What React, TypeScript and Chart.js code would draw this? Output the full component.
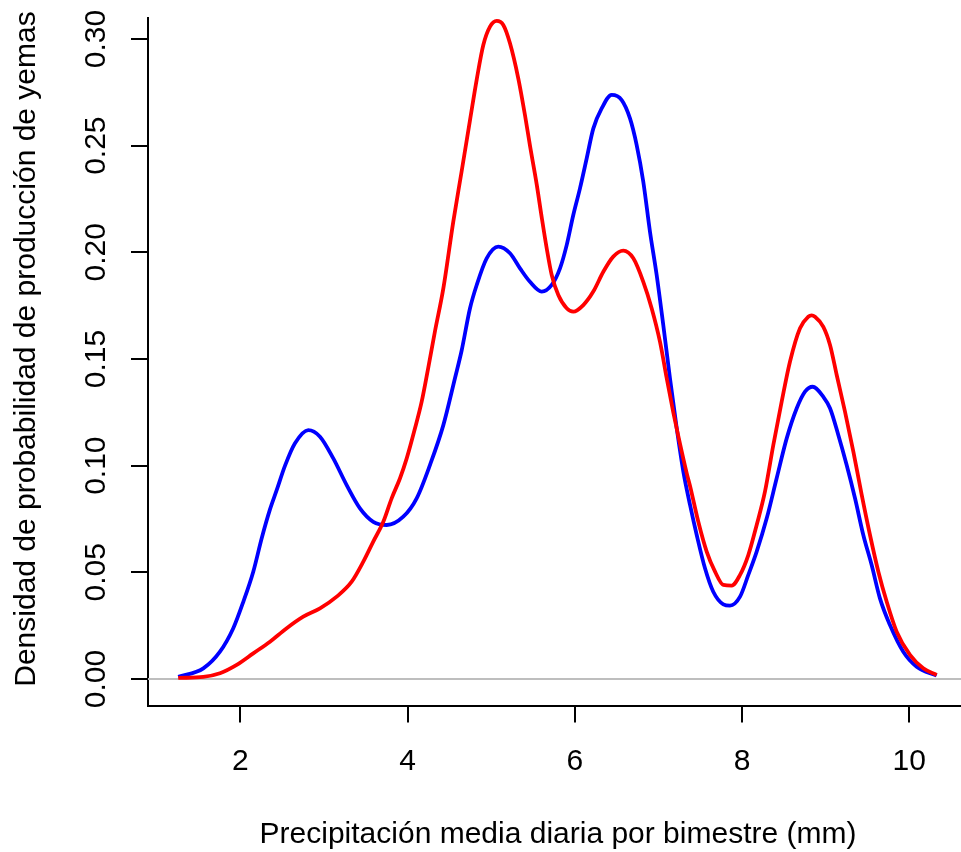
import React, { useEffect, useRef } from "react";
import { Chart, registerables } from "chart.js";

Chart.register(...registerables);

// Density curve (blue)
const blueX = [
  1.258, 1.558, 1.757, 1.916, 2.036, 2.155, 2.256, 2.355, 2.435, 2.535, 2.654, 2.813, 2.953,
  3.112, 3.272, 3.431, 3.59, 3.751, 3.949, 4.109, 4.268, 4.428, 4.567, 4.647, 4.747, 4.827,
  4.946, 5.085, 5.225, 5.345, 5.464, 5.604, 5.724, 5.823, 5.903, 5.982, 6.062, 6.142, 6.221,
  6.322, 6.441, 6.561, 6.66, 6.74, 6.819, 6.899, 6.979, 7.058, 7.138, 7.219, 7.298, 7.378,
  7.458, 7.557, 7.656, 7.776, 7.856, 7.976, 8.075, 8.175, 8.295, 8.414, 8.534, 8.654, 8.753,
  8.845, 8.972, 9.052, 9.151, 9.251, 9.351, 9.45, 9.55, 9.649, 9.769, 9.928, 10.088, 10.327,
];
const blueY = [
  0.001, 0.005, 0.0128, 0.0238, 0.0362, 0.0503, 0.066, 0.0795, 0.0885, 0.1, 0.1105, 0.1167, 0.1136,
  0.1034, 0.0909, 0.08, 0.0737, 0.0722, 0.0761, 0.0847, 0.1003, 0.119, 0.141, 0.154, 0.1738, 0.1847,
  0.1972, 0.2027, 0.1996, 0.1925, 0.1862, 0.1816, 0.1847, 0.1925, 0.2034, 0.2175, 0.23, 0.244, 0.258,
  0.2675, 0.2738, 0.2714, 0.2628, 0.2503, 0.2331, 0.2097, 0.1894, 0.1659, 0.141, 0.1175, 0.0972, 0.0816,
  0.0675, 0.0519, 0.0409, 0.035, 0.0344, 0.0386, 0.0488, 0.0597, 0.0753, 0.0941, 0.1128, 0.1269, 0.1347,
  0.137, 0.1323, 0.1269, 0.1144, 0.1003, 0.0847, 0.0675, 0.0534, 0.0378, 0.0253, 0.0128, 0.0058, 0.0016,
];

// Density curve (red)
const redX = [
  1.258, 1.558, 1.757, 1.957, 2.155, 2.355, 2.555, 2.753, 2.953, 3.153, 3.332, 3.471, 3.59,
  3.71, 3.81, 3.91, 3.99, 4.089, 4.169, 4.248, 4.328, 4.428, 4.547, 4.647, 4.747, 4.827,
  4.906, 4.986, 5.066, 5.145, 5.225, 5.324, 5.404, 5.464, 5.544, 5.604, 5.664, 5.724, 5.803,
  5.903, 5.982, 6.102, 6.221, 6.341, 6.46, 6.58, 6.7, 6.819, 6.919, 7.019, 7.099, 7.178,
  7.238, 7.338, 7.378, 7.477, 7.577, 7.677, 7.776, 7.876, 7.976, 8.075, 8.175, 8.274, 8.374,
  8.474, 8.573, 8.693, 8.792, 8.832, 8.872, 8.972, 9.052, 9.132, 9.231, 9.331, 9.431,
  9.53, 9.63, 9.73, 9.849, 10.008, 10.167, 10.327,
];
const redY = [
  0.0005, 0.001, 0.0027, 0.0066, 0.012, 0.0175, 0.0238, 0.0292, 0.0331, 0.0386, 0.0456, 0.055, 0.0644,
  0.0737, 0.0847, 0.0941, 0.1034, 0.1175, 0.13, 0.146, 0.163, 0.1831, 0.2144, 0.238, 0.262, 0.281,
  0.2972, 0.3058, 0.3085, 0.3066, 0.298, 0.2816, 0.2644, 0.25, 0.232, 0.2165, 0.2019, 0.1894, 0.18,
  0.1738, 0.1722, 0.1753, 0.1816, 0.1909, 0.198, 0.2008, 0.1972, 0.1862, 0.1738, 0.158, 0.141, 0.125,
  0.1138, 0.0965, 0.0905, 0.0737, 0.0597, 0.0503, 0.0441, 0.0438, 0.0488, 0.0581, 0.0722, 0.0878, 0.1097,
  0.13, 0.1487, 0.1644, 0.1698, 0.1705, 0.1698, 0.1651, 0.1566, 0.1425, 0.1253, 0.1066, 0.0863,
  0.0675, 0.0503, 0.0362, 0.0222, 0.0113, 0.005, 0.0019,
];

const xTicks = [2, 4, 6, 8, 10];
const xTickLabels = ["2", "4", "6", "8", "10"];
const yTicks = [0, 0.05, 0.1, 0.15, 0.2, 0.25, 0.3];
const yTickLabels = ["0.00", "0.05", "0.10", "0.15", "0.20", "0.25", "0.30"];
const xRange = [0.8963, 10.702];
const yRange = [-0.01242, 0.30985];
const xTitle = "Precipitación media diaria por bimestre (mm)";
const yTitle = "Densidad de probabilidad de producción de yemas";

const FONT = '"Liberation Sans", Arial, Helvetica, sans-serif';

const zeroLinePlugin = {
  id: "zeroLine",
  beforeDatasetsDraw(chart: any) {
    const { ctx, chartArea, scales } = chart;
    const y = scales.y.getPixelForValue(0);
    ctx.save();
    ctx.strokeStyle = "#BEBEBE";
    ctx.lineWidth = 2;
    ctx.beginPath();
    ctx.moveTo(chartArea.left, y);
    ctx.lineTo(chartArea.right, y);
    ctx.stroke();
    ctx.restore();
  },
};

const yTitlePlugin = {
  id: "yTitleR",
  afterDraw(chart: any) {
    const { ctx, chartArea } = chart;
    ctx.save();
    ctx.font = `30px ${FONT}`;
    ctx.fillStyle = "#000";
    ctx.textAlign = "center";
    ctx.textBaseline = "alphabetic";
    ctx.translate(chartArea.left - 113, chartArea.top + 331);
    ctx.rotate(-Math.PI / 2);
    ctx.fillText(yTitle, 0, 0);
    ctx.restore();
  },
};

export default function App() {
  const ref = useRef<HTMLCanvasElement | null>(null);

  useEffect(() => {
    if (!ref.current) return;
    Chart.defaults.font.family = FONT;
    Chart.defaults.color = "#000";
    const chart = new Chart(ref.current, {
      type: "line",
      data: {
        datasets: [
          {
            label: "red",
            data: redX.map((x, i) => ({ x, y: redY[i] })),
            borderColor: "#FF0000",
            borderWidth: 3.8,
            pointRadius: 0,
            fill: false,
            cubicInterpolationMode: "monotone",
          },
          {
            label: "blue",
            data: blueX.map((x, i) => ({ x, y: blueY[i] })),
            borderColor: "#0000FF",
            borderWidth: 3.8,
            pointRadius: 0,
            fill: false,
            cubicInterpolationMode: "monotone",
          },
        ],
      },
      options: {
        responsive: false,
        maintainAspectRatio: false,
        animation: false,
        layout: { padding: { top: 18, left: 0, right: 0, bottom: 0 } },
        plugins: {
          legend: { display: false },
          tooltip: { enabled: false },
        },
        scales: {
          x: {
            type: "linear",
            min: xRange[0],
            max: xRange[1],
            afterBuildTicks: (scale: any) => {
              scale.ticks = xTicks.map((v) => ({ value: v }));
            },
            afterFit: (scale: any) => {
              scale.height = 146.5;
              scale.paddingLeft = 0;
              scale.paddingRight = 0;
            },
            ticks: {
              autoSkip: false,
              maxRotation: 0,
              minRotation: 0,
              padding: 21.5,
              font: { size: 30 },
              color: "#000",
              callback: (_v: any, i: number) => xTickLabels[i],
            },
            grid: {
              drawOnChartArea: false,
              drawTicks: true,
              tickLength: 17,
              color: "#000",
              lineWidth: 2,
            },
            border: { display: true, color: "#000", width: 2 },
            title: {
              display: true,
              text: xTitle,
              color: "#000",
              font: { size: 30, lineHeight: 1 },
              padding: { top: 0, bottom: 2.4 },
            },
          },
          y: {
            type: "linear",
            min: yRange[0],
            max: yRange[1],
            afterBuildTicks: (scale: any) => {
              scale.ticks = yTicks.map((v) => ({ value: v }));
            },
            afterFit: (scale: any) => {
              scale.width = 148;
              scale.paddingTop = 0;
              scale.paddingBottom = 0;
            },
            ticks: {
              autoSkip: false,
              minRotation: 90,
              maxRotation: 90,
              crossAlign: "center",
              padding: 5,
              font: { size: 30 },
              color: "#000",
              callback: (_v: any, i: number) => yTickLabels[i],
            },
            grid: {
              drawOnChartArea: false,
              drawTicks: true,
              tickLength: 17,
              color: "#000",
              lineWidth: 2,
            },
            border: { display: true, color: "#000", width: 2 },
            title: { display: false },
          },
        },
      } as any,
      plugins: [zeroLinePlugin, yTitlePlugin],
    });
    return () => chart.destroy();
  }, []);

  return (
    <div
      style={{
        position: "absolute",
        left: 0,
        top: 0,
        width: 961,
        height: 852,
        overflow: "hidden",
        background: "#fff",
      }}
    >
      <canvas ref={ref} width={968} height={852} style={{ display: "block" }} />
    </div>
  );
}
